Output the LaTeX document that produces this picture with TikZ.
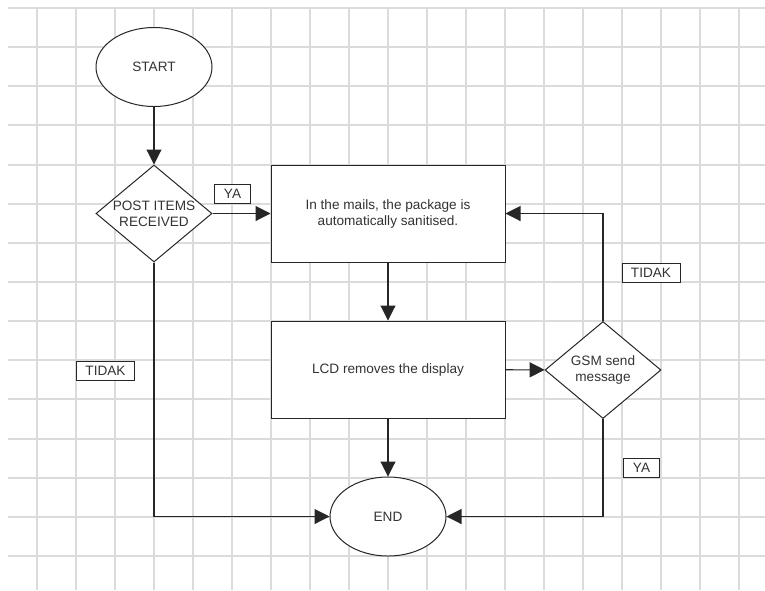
\documentclass[tikz,border=0pt]{standalone}
\usepackage{fontspec}
\setmainfont{Liberation Sans}
\usetikzlibrary{shapes.geometric,arrows.meta}

\begin{document}
\begin{tikzpicture}[x=1pt,y=-1pt,font=\fontsize{13.6}{16}\selectfont,text=black!80,
  gridline/.style={draw=black!14,line width=2pt},
  term/.style={ellipse,draw=black!85,fill=white,line width=1pt,minimum width=116pt,minimum height=79pt,inner sep=0pt},
  decide/.style={diamond,draw=black!85,fill=white,line width=1pt,minimum width=116pt,minimum height=97pt,inner sep=-2.6pt,aspect=1.2,align=center},
  process/.style={rectangle,draw=black!85,fill=white,line width=1pt,minimum width=234pt,minimum height=97pt,align=center},
  answer/.style={rectangle,draw=black!85,fill=white,line width=0.9pt,inner xsep=9pt,inner ysep=0pt,minimum height=19pt},
  flow/.style={draw=black!85,line width=1.1pt,-{Triangle[length=15pt,width=15pt]}}]

\useasboundingbox (0,0) rectangle (765,590);
\fill[white] (0,0) rectangle (765,590);

\foreach \i in {0,...,18}
  \draw[gridline] ({37+39*\i},8) -- ({37+39*\i},590);
\foreach \j in {0,...,14}
  \draw[gridline] (8,{8+39.14*\j}) -- (765,{8+39.14*\j});

\node[term] (start) at (154,67) {START};
\node[decide] (post) at (154,213.5) {POST ITEMS\\RECEIVED};
\node[process] (wash) at (388,213.5) {In the mails, the package is\\automatically sanitised.};
\node[process] (lcd) at (388,369.5) {LCD removes the display};
\node[decide] (gsm) at (603,370) {GSM send\\message};
\node[term] (finish) at (388,516.5) {END};

\draw[flow] (start) -- (post);
\draw[flow] (post) -- (wash);
\draw[flow] (wash) -- (lcd);
\draw[flow] (lcd) -- (finish);
\draw[flow] (lcd) -- (gsm);
\draw[flow] (gsm.north) |- (wash.east);
\draw[flow] (gsm.south) |- (finish.east);
\draw[flow] (post.south) |- (finish.west);

\node[answer] (yes1) at (232.5,194) {YA};
\node[answer] (no1) at (105.5,370.5) {TIDAK};
\node[answer] (no2) at (651,272.5) {TIDAK};
\node[answer] (yes2) at (641.5,467.5) {YA};

\end{tikzpicture}
\end{document}
